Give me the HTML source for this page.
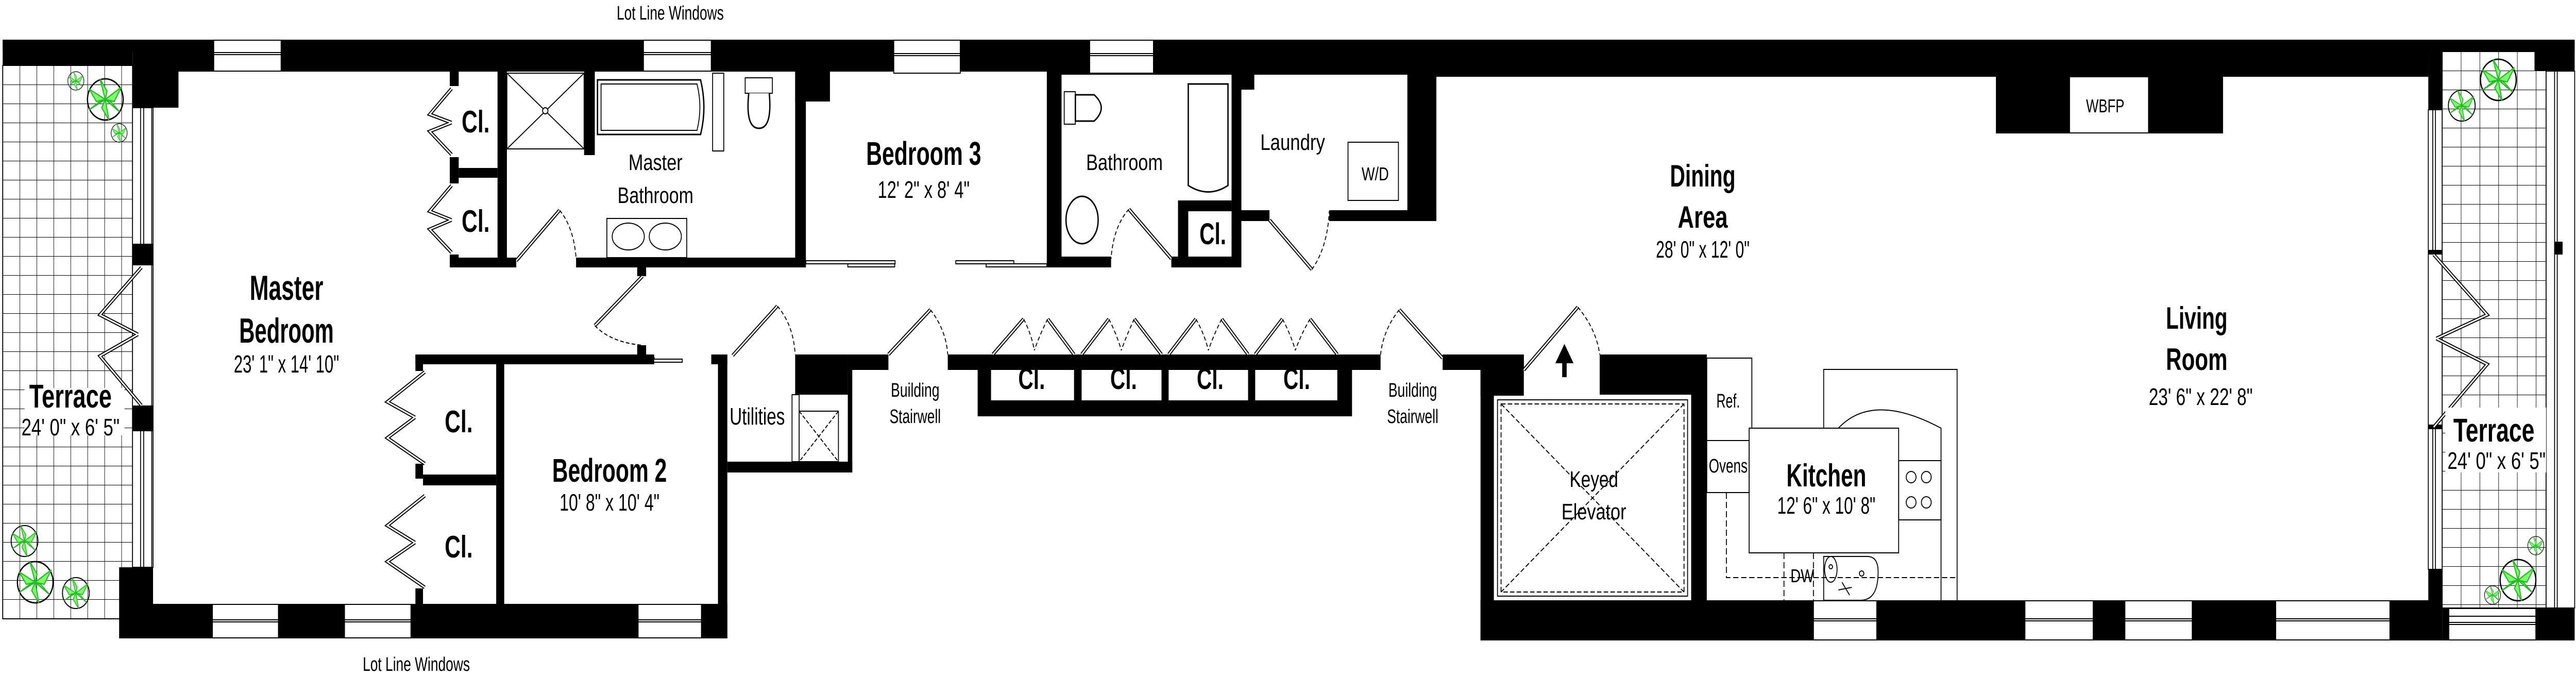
<!DOCTYPE html>
<html><head><meta charset="utf-8">
<style>
html,body{margin:0;padding:0;background:#fff;width:100%;height:100%;overflow:hidden;}
svg{display:block;width:100%;height:100%;}
text{font-family:"Liberation Sans Narrow","Liberation Sans",sans-serif;fill:#000;text-anchor:middle;}
.b{font-weight:bold;}
</style></head>
<body>
<svg width="100%" height="100%" viewBox="0 0 5773 1312" preserveAspectRatio="none" xmlns="http://www.w3.org/2000/svg">
<defs>
<pattern id="tile" x="6" y="127" width="38" height="37" patternUnits="userSpaceOnUse">
<rect width="38" height="37" fill="#fff"/>
<path d="M0 0H38M0 0V37" stroke="#000" stroke-width="2" fill="none"/>
</pattern>
<pattern id="tile2" x="5473" y="100" width="42" height="37" patternUnits="userSpaceOnUse">
<rect width="42" height="37" fill="#fff"/>
<path d="M0 0H42M0 0V37" stroke="#000" stroke-width="2" fill="none"/>
</pattern>
<g id="plant">
<circle r="1" fill="none" stroke="#000" stroke-width="0.07"/>
<path d="M0 0 L-0.9 -0.5 L-0.5 0.1 Z M0 0 L0.9 -0.6 L0.5 0.1 Z M0 0 L-0.3 -1 L0.1 -0.4 Z M0 0 L0.2 1 L-0.2 0.4 Z M0 0 L-0.9 0.5 L-0.3 0.1 Z M0 0 L0.8 0.6 L0.3 0.1Z" fill="#7CFC6A" stroke="#1fbf1f" stroke-width="0.06"/>
</g>
</defs>

<rect x="6" y="127" width="291" height="1074" fill="url(#tile)" stroke="#000" stroke-width="2"/>
<rect x="5473" y="100" width="233" height="1080" fill="url(#tile2)" stroke="#000" stroke-width="2"/>

<rect x="6" y="77" width="5764" height="23" fill="#000"/>
<rect x="6" y="77" width="291" height="50" fill="#000"/>
<rect x="297" y="77" width="5145" height="62" fill="#000"/>
<rect x="2346" y="77" width="3096" height="68" fill="#000"/>
<rect x="3219" y="77" width="2223" height="72" fill="#000"/>
<rect x="5680" y="77" width="90" height="61" fill="#000"/>
<rect x="297" y="127" width="103" height="82" fill="#000"/>
<rect x="1782" y="138" width="78" height="59" fill="#000"/>
<rect x="5442" y="100" width="31" height="113" fill="#000"/>
<g fill="#fff" stroke="#000" stroke-width="2">
<rect x="479" y="78" width="151" height="60"/><rect x="1442" y="78" width="152" height="60"/>
<rect x="2003" y="78" width="149" height="64"/><rect x="2442" y="78" width="143" height="64"/>
</g>
<g stroke="#000" stroke-width="2">
<path d="M479 102H630M479 106H630M1442 102H1594M1442 106H1594M2003 104H2152M2003 108H2152M2442 104H2585M2442 108H2585"/>
</g>

<rect x="267" y="1172" width="1363" height="67" fill="#000"/>
<rect x="267" y="1101" width="76" height="71" fill="#000"/>
<rect x="3318" y="1165" width="2155" height="78" fill="#000"/>
<rect x="5442" y="1105" width="31" height="138" fill="#000"/>
<rect x="5473" y="1180" width="297" height="63" fill="#000"/>
<g fill="#fff" stroke="#000" stroke-width="2">
<rect x="476" y="1173" width="148" height="65"/><rect x="772" y="1173" width="149" height="65"/><rect x="1430" y="1173" width="142" height="65"/>
<rect x="4064" y="1166" width="142" height="76"/><rect x="4538" y="1166" width="153" height="76"/><rect x="4762" y="1166" width="151" height="76"/><rect x="5100" y="1166" width="256" height="76"/><rect x="5488" y="1181" width="195" height="61"/>
</g>
<path d="M476 1203H624M476 1207H624M772 1203H921M772 1207H921M1430 1203H1572M1430 1207H1572M4064 1201H4206M4064 1205H4206M4538 1201H4691M4538 1205H4691M4762 1201H4913M4762 1205H4913M5100 1201H5356M5100 1205H5356M5488 1208H5683M5488 1212H5683M5488 1196H5683" stroke="#000" stroke-width="2"/>

<rect x="297" y="209" width="46" height="892" fill="#fff" stroke="#000" stroke-width="2"/>
<path d="M315 209V473M322 209V473M315 837V1101M322 837V1101M340 209V1101" stroke="#000" stroke-width="2"/>
<rect x="297" y="473" width="46" height="42" fill="#000"/>
<rect x="297" y="787" width="46" height="50" fill="#000"/>
<rect x="5442" y="213" width="31" height="892" fill="#fff" stroke="#000" stroke-width="2"/>
<path d="M5452 213V485M5458 213V485M5452 833V1105M5458 833V1105" stroke="#000" stroke-width="2"/>
<rect x="5442" y="485" width="31" height="9" fill="#000"/><rect x="5442" y="824" width="31" height="9" fill="#000"/>
<rect x="5706" y="138" width="64" height="1042" fill="#fff" stroke="#000" stroke-width="2"/>
<path d="M5725 138V1180M5731 138V1180" stroke="#000" stroke-width="2"/>
<rect x="5725" y="469" width="18" height="25" fill="#000"/>

<g fill="none" stroke="#000" stroke-width="7"><path d="M317 519L224 611L309 649M317 787L224 691L309 649M5454 494L5574 611L5460 657M5454 829L5574 707L5460 657"/></g>
<g fill="none" stroke="#fff" stroke-width="3"><path d="M317 519L224 611L309 649M317 787L224 691L309 649M5454 494L5574 611L5460 657M5454 829L5574 707L5460 657"/></g>

<g fill="#000">
<rect x="1008" y="138" width="20" height="29"/><rect x="1008" y="305" width="20" height="51"/><rect x="1008" y="494" width="20" height="25"/>
<rect x="1115" y="138" width="21" height="381"/><rect x="1028" y="326" width="87" height="19"/>
<rect x="1008" y="500" width="149" height="19"/><rect x="1291" y="500" width="515" height="19"/>
<rect x="1309" y="138" width="24" height="163"/><rect x="1782" y="138" width="24" height="381"/>
<rect x="1428" y="519" width="20" height="17"/><rect x="1428" y="670" width="20" height="18"/>
</g>
<rect x="1136" y="142" width="173" height="147" fill="#fff" stroke="#000" stroke-width="2"/>
<path d="M1136 142L1309 289M1309 142L1136 289" stroke="#000" stroke-width="2"/>
<circle cx="1222" cy="215" r="6" fill="#fff" stroke="#000" stroke-width="2"/>
<path d="M1339 155H1570Q1585 208 1570 261H1339Z" fill="#fff" stroke="#000" stroke-width="3"/>
<path d="M1347 163H1562Q1575 208 1562 253H1347Z" fill="none" stroke="#000" stroke-width="2"/>
<rect x="1597" y="142" width="25" height="151" fill="#fff" stroke="#000" stroke-width="2"/>
<rect x="1670" y="151" width="61" height="30" fill="#fff" stroke="#000" stroke-width="2"/>
<path d="M1678 181Q1670 249 1701 249Q1731 249 1724 181" fill="#fff" stroke="#000" stroke-width="3"/>
<rect x="1360" y="424" width="179" height="76" fill="#fff" stroke="#000" stroke-width="2"/>
<ellipse cx="1408" cy="459" rx="36" ry="26" fill="#fff" stroke="#000" stroke-width="2"/>
<ellipse cx="1491" cy="459" rx="36" ry="26" fill="#fff" stroke="#000" stroke-width="2"/>
<g fill="#000">
<rect x="2346" y="144" width="33" height="375"/><rect x="2346" y="498" width="144" height="21"/><rect x="2625" y="498" width="157" height="21"/>
<rect x="2640" y="389" width="23" height="130"/><rect x="2640" y="389" width="120" height="21"/><rect x="2760" y="144" width="22" height="375"/>
<rect x="2782" y="144" width="29" height="30"/><rect x="2782" y="408" width="63" height="21"/><rect x="2979" y="408" width="240" height="21"/>
<rect x="3154" y="144" width="65" height="285"/>
</g>
<path d="M2663 163H2752V360Q2708 385 2663 360Z" fill="#fff" stroke="#000" stroke-width="3"/>
<rect x="2385" y="178" width="25" height="63" fill="#fff" stroke="#000" stroke-width="2"/>
<path d="M2410 184H2452Q2484 209 2452 235H2410Z" fill="#fff" stroke="#000" stroke-width="3"/>
<ellipse cx="2425" cy="427" rx="36" ry="46" fill="#fff" stroke="#000" stroke-width="3"/>
<rect x="3021" y="276" width="113" height="113" fill="#fff" stroke="#000" stroke-width="2"/>
<g fill="#fff" stroke="#000" stroke-width="2">
<rect x="1806" y="506" width="200" height="6"/><rect x="1900" y="512" width="105" height="6"/><rect x="2142" y="506" width="130" height="6"/><rect x="2210" y="512" width="136" height="6"/>
<rect x="1340" y="694" width="126" height="6"/><rect x="1440" y="697" width="89" height="6"/>
</g>

<g fill="#000">
<rect x="931" y="688" width="535" height="19"/>
<rect x="931" y="688" width="17" height="32"/><rect x="931" y="900" width="17" height="29"/><rect x="931" y="1142" width="17" height="30"/>
<rect x="1112" y="707" width="18" height="465"/><rect x="948" y="921" width="164" height="21"/>
<rect x="1594" y="688" width="36" height="19"/><rect x="1609" y="688" width="21" height="551"/>
<rect x="1782" y="688" width="118" height="78"/><rect x="1630" y="896" width="280" height="21"/>
<rect x="1900" y="688" width="91" height="30"/><rect x="1900" y="688" width="10" height="229"/>
<rect x="2124" y="688" width="97" height="30"/><rect x="2191" y="688" width="839" height="120"/>
<rect x="2997" y="688" width="97" height="30"/><rect x="3233" y="688" width="182" height="30"/>
<rect x="3318" y="688" width="30" height="555"/><rect x="3318" y="688" width="97" height="80"/>
<rect x="3585" y="688" width="215" height="78"/><rect x="3790" y="688" width="35" height="477"/>
<rect x="4473" y="149" width="509" height="110"/>
</g>
<rect x="1775" y="766" width="16" height="130" fill="#fff" stroke="#000" stroke-width="2"/>
<rect x="1791" y="798" width="88" height="98" fill="#fff" stroke="#000" stroke-width="2"/>
<path d="M1791 798L1879 896M1879 798L1791 896" stroke="#000" stroke-width="2" stroke-dasharray="8 4"/>
<g fill="#fff"><rect x="2221" y="718" width="186" height="59"/><rect x="2424" y="718" width="179" height="59"/><rect x="2619" y="718" width="178" height="59"/><rect x="2813" y="718" width="184" height="59"/></g>
<rect x="4638" y="149" width="177" height="109" fill="#fff" stroke="#000" stroke-width="2"/>
<rect x="3348" y="768" width="442" height="397" fill="#fff"/>
<rect x="3356" y="776" width="426" height="381" fill="none" stroke="#000" stroke-width="2"/>
<rect x="3364" y="784" width="410" height="365" fill="none" stroke="#000" stroke-width="2" stroke-dasharray="10 5"/>
<path d="M3364 784L3774 1149M3774 784L3364 1149" stroke="#000" stroke-width="2" stroke-dasharray="10 5"/>
<path d="M3506 732V700H3494L3506 678L3518 700H3506" fill="#000" stroke="#000" stroke-width="10"/>

<g fill="none" stroke="#000" stroke-width="2">
<rect x="3825" y="695" width="101" height="160"/><rect x="3825" y="855" width="95" height="101"/>
<path d="M4087 831V717H4386V1165"/>
<path d="M4087 831H4120Q4197 760 4350 831V1165"/>
<rect x="3920" y="831" width="335" height="242" fill="#fff"/>
<rect x="4255" y="894" width="95" height="115"/>
<circle cx="4283" cy="926" r="11"/><circle cx="4317" cy="926" r="11"/><circle cx="4283" cy="975" r="11"/><circle cx="4317" cy="975" r="11"/>
<path d="M4087 1080H4185Q4209 1080 4209 1110Q4209 1165 4170 1165H4087Z"/>
<ellipse cx="4103" cy="1105" rx="14" ry="25"/><circle cx="4103" cy="1100" r="4"/><circle cx="4172" cy="1113" r="5"/>
<path d="M4128 1130L4145 1155M4120 1145L4150 1140"/>
<path d="M3869 956V1121H4386M3998 1073V1165M4064 1073V1165" stroke-dasharray="12 6"/>
</g>

<g fill="none" stroke="#000" stroke-width="7">
<path d="M1157 506L1254 408M1440 536L1333 632M1642 690L1742 594M2625 502L2530 406M2845 427L2940 523M1991 688L2085 601M3233 695L3136 601M3415 718L3536 596"/>
<path d="M2225 688L2294 619M2407 688L2348 619M2424 688L2485 619M2603 688L2542 619M2619 688L2680 619M2797 688L2738 619M2813 688L2874 619M2997 688L2936 619"/>
<path d="M1012 172L963 222L1012 238M1012 300L963 255L1012 238M1012 360L963 410L1012 427M1012 490L963 445L1012 427"/>
<path d="M952 722L868 780L930 810M952 900L868 850L930 810M952 962L868 1020L930 1053M952 1140L868 1090L930 1053"/>
</g>
<g fill="none" stroke="#fff" stroke-width="3">
<path d="M1157 506L1254 408M1440 536L1333 632M1642 690L1742 594M2625 502L2530 406M2845 427L2940 523M1991 688L2085 601M3233 695L3136 601M3415 718L3536 596"/>
<path d="M2225 688L2294 619M2407 688L2348 619M2424 688L2485 619M2603 688L2542 619M2619 688L2680 619M2797 688L2738 619M2813 688L2874 619M2997 688L2936 619"/>
<path d="M1012 172L963 222L1012 238M1012 300L963 255L1012 238M1012 360L963 410L1012 427M1012 490L963 445L1012 427"/>
<path d="M952 722L868 780L930 810M952 900L868 850L930 810M952 962L868 1020L930 1053M952 1140L868 1090L930 1053"/>
</g>
<g fill="none" stroke="#000" stroke-width="2" stroke-dasharray="8 5">
<path d="M1254 408Q1285 440 1291 500M1333 632Q1370 665 1440 670M1742 594Q1778 630 1782 688M2530 406Q2495 440 2490 502M2940 523Q2975 480 2979 410M2085 601Q2120 640 2124 688M3136 601Q3100 640 3094 688M3536 596Q3578 640 3585 688"/>
<path d="M2294 619Q2312 650 2318 680M2348 619Q2330 650 2318 680M2485 619Q2503 650 2513 680M2542 619Q2525 650 2513 680M2680 619Q2700 650 2708 680M2738 619Q2720 650 2708 680M2874 619Q2893 650 2903 680M2936 619Q2915 650 2903 680"/>
</g>

<use href="#plant" transform="translate(170 157) scale(18)"/>
<use href="#plant" transform="translate(236 193) scale(40)"/>
<use href="#plant" transform="translate(267 258) scale(18)"/>
<use href="#plant" transform="translate(55 1050) scale(30)"/>
<use href="#plant" transform="translate(79 1130) scale(40)"/>
<use href="#plant" transform="translate(170 1151) scale(30)"/>
<use href="#plant" transform="translate(5599 155) scale(40)"/>
<use href="#plant" transform="translate(5517 205) scale(30)"/>
<use href="#plant" transform="translate(5683 1059) scale(18)"/>
<use href="#plant" transform="translate(5643 1126) scale(40)"/>
<use href="#plant" transform="translate(5586 1155) scale(18)"/>

<rect x="55" y="753" width="224" height="92" fill="#fff"/>
<rect x="5480" y="791" width="226" height="126" fill="#fff"/>

<text x="1502" y="38" font-size="38" textLength="240" lengthAdjust="spacingAndGlyphs">Lot Line Windows</text>
<text x="933" y="1302" font-size="38" textLength="240" lengthAdjust="spacingAndGlyphs">Lot Line Windows</text>
<g class="b">
<text x="642" y="582" font-size="68" textLength="165" lengthAdjust="spacingAndGlyphs">Master</text>
<text x="642" y="665" font-size="68" textLength="212" lengthAdjust="spacingAndGlyphs">Bedroom</text>
<text x="158" y="791" font-size="64" textLength="185" lengthAdjust="spacingAndGlyphs">Terrace</text>
<text x="5589" y="857" font-size="64" textLength="182" lengthAdjust="spacingAndGlyphs">Terrace</text>
<text x="1066" y="257" font-size="60" textLength="63" lengthAdjust="spacingAndGlyphs">Cl.</text>
<text x="1066" y="450" font-size="60" textLength="63" lengthAdjust="spacingAndGlyphs">Cl.</text>
<text x="1028" y="839" font-size="60" textLength="63" lengthAdjust="spacingAndGlyphs">Cl.</text>
<text x="1028" y="1082" font-size="60" textLength="63" lengthAdjust="spacingAndGlyphs">Cl.</text>
<text x="2718" y="474" font-size="58" textLength="60" lengthAdjust="spacingAndGlyphs">Cl.</text>
<text x="2312" y="755" font-size="58" textLength="60" lengthAdjust="spacingAndGlyphs">Cl.</text>
<text x="2518" y="755" font-size="58" textLength="60" lengthAdjust="spacingAndGlyphs">Cl.</text>
<text x="2712" y="755" font-size="58" textLength="60" lengthAdjust="spacingAndGlyphs">Cl.</text>
<text x="2906" y="755" font-size="58" textLength="60" lengthAdjust="spacingAndGlyphs">Cl.</text>
<text x="1366" y="935" font-size="64" textLength="257" lengthAdjust="spacingAndGlyphs">Bedroom 2</text>
<text x="2070" y="320" font-size="64" textLength="258" lengthAdjust="spacingAndGlyphs">Bedroom 3</text>
<text x="3816" y="362" font-size="60" textLength="147" lengthAdjust="spacingAndGlyphs">Dining</text>
<text x="3816" y="442" font-size="60" textLength="112" lengthAdjust="spacingAndGlyphs">Area</text>
<text x="4923" y="638" font-size="60" textLength="138" lengthAdjust="spacingAndGlyphs">Living</text>
<text x="4923" y="718" font-size="60" textLength="138" lengthAdjust="spacingAndGlyphs">Room</text>
<text x="4093" y="944" font-size="62" textLength="179" lengthAdjust="spacingAndGlyphs">Kitchen</text>
</g>
<text x="642" y="723" font-size="48" textLength="236" lengthAdjust="spacingAndGlyphs">23' 1" x 14' 10"</text>
<text x="158" y="845" font-size="46" textLength="220" lengthAdjust="spacingAndGlyphs">24' 0" x 6' 5"</text>
<text x="5595" y="910" font-size="46" textLength="220" lengthAdjust="spacingAndGlyphs">24' 0" x 6' 5"</text>
<text x="1469" y="330" font-size="44" textLength="121" lengthAdjust="spacingAndGlyphs">Master</text>
<text x="1469" y="394" font-size="44" textLength="170" lengthAdjust="spacingAndGlyphs">Bathroom</text>
<text x="1366" y="991" font-size="46" textLength="224" lengthAdjust="spacingAndGlyphs">10' 8" x 10' 4"</text>
<text x="1697" y="824" font-size="46" textLength="124" lengthAdjust="spacingAndGlyphs">Utilities</text>
<text x="2070" y="384" font-size="46" textLength="206" lengthAdjust="spacingAndGlyphs">12' 2" x 8' 4"</text>
<text x="2520" y="330" font-size="44" textLength="172" lengthAdjust="spacingAndGlyphs">Bathroom</text>
<text x="2897" y="291" font-size="44" textLength="145" lengthAdjust="spacingAndGlyphs">Laundry</text>
<text x="3082" y="350" font-size="36" textLength="61" lengthAdjust="spacingAndGlyphs">W/D</text>
<text x="2051" y="770" font-size="38" textLength="109" lengthAdjust="spacingAndGlyphs">Building</text>
<text x="2051" y="821" font-size="38" textLength="115" lengthAdjust="spacingAndGlyphs">Stairwell</text>
<text x="3166" y="770" font-size="38" textLength="109" lengthAdjust="spacingAndGlyphs">Building</text>
<text x="3166" y="821" font-size="38" textLength="115" lengthAdjust="spacingAndGlyphs">Stairwell</text>
<text x="3816" y="500" font-size="46" textLength="210" lengthAdjust="spacingAndGlyphs">28' 0" x 12' 0"</text>
<text x="3572" y="945" font-size="44" textLength="109" lengthAdjust="spacingAndGlyphs">Keyed</text>
<text x="3572" y="1008" font-size="44" textLength="145" lengthAdjust="spacingAndGlyphs">Elevator</text>
<text x="4718" y="218" font-size="36" textLength="86" lengthAdjust="spacingAndGlyphs">WBFP</text>
<text x="4932" y="786" font-size="46" textLength="233" lengthAdjust="spacingAndGlyphs">23' 6" x 22' 8"</text>
<text x="3873" y="791" font-size="38" textLength="53" lengthAdjust="spacingAndGlyphs">Ref.</text>
<text x="3873" y="917" font-size="38" textLength="87" lengthAdjust="spacingAndGlyphs">Ovens</text>
<text x="4093" y="997" font-size="46" textLength="220" lengthAdjust="spacingAndGlyphs">12' 6" x 10' 8"</text>
<text x="4039" y="1130" font-size="36" textLength="53" lengthAdjust="spacingAndGlyphs">DW</text>
</svg>
</body></html>
